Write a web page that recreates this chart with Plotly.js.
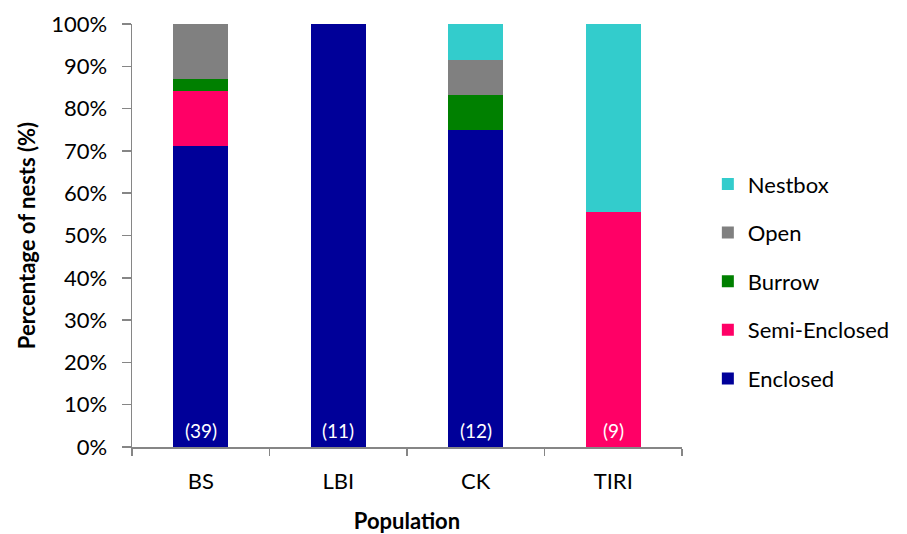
<!DOCTYPE html>
<html>
<head>
<meta charset="utf-8">
<script src="https://cdn.plot.ly/plotly-3.0.1.min.js"></script>
<style>html,body{margin:0;padding:0;background:#fff;}#chart{width:907px;height:534px;}</style>
</head>
<body>
<div id="chart"></div>
<script>
const populations = ["BS", "LBI", "CK", "TIRI"];
const sampleSizes = [39, 11, 12, 9];
const enclosed = [71.2, 100, 75.0, 0];
const semiEnclosed = [13.0, 0, 0, 55.6];
const burrow = [2.7, 0, 8.3, 0];
const open = [13.1, 0, 8.3, 0];
const nestbox = [0, 0, 8.4, 44.4];

const seriesNames = ["Enclosed", "Semi-Enclosed", "Burrow", "Open", "Nestbox"];
const seriesValues = [enclosed, semiEnclosed, burrow, open, nestbox];
const seriesColors = ["#000099", "#FF0066", "#008000", "#808080", "#33CCCC"];

const FONT = "Lato, 'Open Sans', sans-serif";

const traces = seriesNames.map((name, i) => ({
  type: "bar",
  name: name,
  legendgroup: "g" + i,
  legendrank: 1000 - i,
  x: populations,
  y: seriesValues[i],
  marker: { color: seriesColors[i], line: { width: 0 } },
  hoverinfo: "x+y+name"
}));

const annotations = populations.map((p, i) => ({
  x: p, y: 0, xref: "x", yref: "y",
  text: "(" + sampleSizes[i] + ")",
  showarrow: false, yanchor: "bottom", yshift: 3,
  font: { family: FONT, size: 19, color: "#ffffff" }
}));

const layout = {
  width: 907, height: 534,
  barmode: "stack",
  bargap: 0.6,
  paper_bgcolor: "#ffffff",
  plot_bgcolor: "#ffffff",
  margin: { l: 132, r: 223, t: 24, b: 87 },
  font: { family: FONT, size: 22, color: "#000000" },
  xaxis: {
    type: "category",
    showline: true, linecolor: "#868686", linewidth: 1.5,
    ticks: "outside", tickson: "boundaries", ticklen: 7, tickcolor: "#868686", tickwidth: 1.5,
    ticklabelstandoff: 14,
    tickfont: { family: FONT, size: 22 },
    showgrid: false, zeroline: false,
    title: { text: "<b>Population</b>", font: { family: FONT, size: 22 }, standoff: 22 }
  },
  yaxis: {
    range: [0, 100],
    dtick: 10,
    ticksuffix: "%",
    showline: true, linecolor: "#868686", linewidth: 1.5,
    ticks: "outside", ticklen: 9, tickcolor: "#868686", tickwidth: 1.5,
    ticklabelstandoff: 10,
    tickfont: { family: FONT, size: 22 },
    showgrid: false, zeroline: false,
    title: { text: "<b>Percentage of nests (%)</b>", font: { family: FONT, size: 22 }, standoff: 9 }
  },
  legend: {
    x: 1.047, xanchor: "left", y: 0.392, yanchor: "middle",
    traceorder: "grouped",
    font: { family: FONT, size: 22 },
    itemwidth: 30,
    tracegroupgap: 17,
    bgcolor: "rgba(0,0,0,0)"
  },
  annotations: annotations,
  showlegend: true
};

Plotly.newPlot("chart", traces, layout, { displayModeBar: false, staticPlot: true });
</script>
</body>
</html>
